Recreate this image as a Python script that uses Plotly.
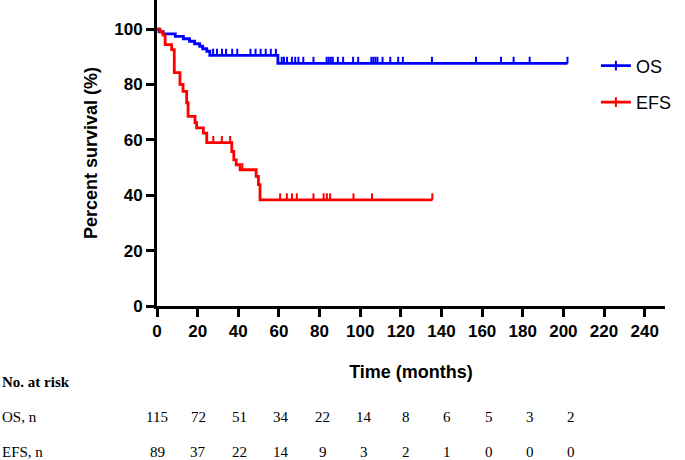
import numpy as np
import plotly.graph_objects as go

# ---------------- data ----------------
os_times = [0, 1, 3, 9, 13, 16, 18.5, 21, 22.5, 24.5, 26, 59.5, 202]
os_surv = [100, 99.1, 98.3, 97.4, 96.5, 95.6, 94.7, 93.8, 92.9, 92.0, 90.5, 87.6, 87.6]
os_censor = [27.6, 29.5, 32, 34, 37, 39.5, 46, 48.5, 51, 53.5, 56, 58.5, 61.4, 62.5, 64,
             66.4, 68, 69.6, 72, 77, 83.5, 84.5, 85.5, 86.5, 89, 91.6, 96.5, 99, 105.5,
             106.5, 107.5, 108.5, 111, 114.8, 118.7, 121, 135.3, 157, 169.3, 175.5, 183.4, 202]

efs_times = [0, 1.5, 3, 4, 7.2, 8.5, 11.3, 12.8, 14.6, 15.3, 18.7, 19.5, 22.8, 24.5,
             36.8, 37.8, 39, 40.9, 48.8, 49.9, 50.7, 135.5]
efs_surv = [100, 98.9, 97.8, 94.4, 92.6, 84.3, 80, 77.5, 73.4, 68.5, 66.2, 64.3, 62.4, 59.0,
            55.8, 52.8, 51, 49.2, 46.8, 43.8, 38.3, 38.3]
efs_censor = [27.7, 31.9, 36, 42, 60.6, 63.9, 66.4, 68.8, 77, 82, 83.6, 85.2, 96.7, 105.8, 135.5]

risk_times = [0, 20, 40, 60, 80, 100, 120, 140, 160, 180, 200]
os_risk = [115, 72, 51, 34, 22, 14, 8, 6, 5, 3, 2]
efs_risk = [89, 37, 22, 14, 9, 3, 2, 1, 0, 0, 0]

BLUE = "#0000FF"
RED = "#FF0000"


def surv_at(times, surv, t):
    idx = np.searchsorted(np.array(times), np.array(t), side="right") - 1
    return list(np.array(surv)[idx])


fig = go.Figure()


def add_curve(times, surv, censor, color, name):
    fig.add_trace(go.Scatter(x=times, y=surv, mode="lines", line=dict(color=color, width=2.8, shape="hv"),
                             showlegend=False, hoverinfo="skip"))
    cy = surv_at(times, surv, censor)
    fig.add_trace(go.Scatter(x=censor, y=cy, mode="markers", marker=dict(size=1, color=color),
                             error_y=dict(type="data", symmetric=False, array=[2.4] * len(censor),
                                          arrayminus=[0] * len(censor), width=0, thickness=2, color=color),
                             showlegend=False, hoverinfo="skip"))
    fig.add_trace(go.Scatter(x=[None], y=[None], mode="lines+markers", name=name, legendgroup=name,
                             line=dict(color=color, width=2.8),
                             marker=dict(symbol="line-ns-open", size=7, line=dict(color=color, width=2))))


add_curve(os_times, os_surv, os_censor, BLUE, "OS")
add_curve(efs_times, efs_surv, efs_censor, RED, "EFS")

axis_font = dict(family="Liberation Sans, Arial", size=17, color="black", weight="bold")

fig.update_xaxes(range=[0, 250], tickvals=list(range(0, 241, 20)), showline=True, linewidth=3,
                 linecolor="black", ticks="outside", ticklen=8, tickwidth=3, tickcolor="black",
                 showgrid=False, zeroline=False, tickfont=axis_font, automargin=False,
                 title=dict(text="Time (months)", font=dict(family="Liberation Sans, Arial", size=18,
                                                             color="black", weight="bold"), standoff=25))
fig.update_yaxes(range=[0, 110.5], tickvals=list(range(0, 101, 20)), showline=True, linewidth=3,
                 linecolor="black", ticks="outside", ticklen=8, tickwidth=3, tickcolor="black",
                 showgrid=False, zeroline=False, tickfont=axis_font, automargin=False,
                 title=dict(text="Percent survival (%)", font=dict(family="Liberation Sans, Arial", size=18,
                                                                    color="black", weight="bold"), standoff=12))

serif = "Liberation Serif, Times New Roman"
ann = []
ann.append(dict(text="<b>No. at risk</b>", x=-0.309, y=-0.248, xref="paper", yref="paper",
                xanchor="left", yanchor="middle", showarrow=False, font=dict(family=serif, size=15, color="black")))
ann.append(dict(text="OS, n", x=-0.309, y=-0.363, xref="paper", yref="paper",
                xanchor="left", yanchor="middle", showarrow=False, font=dict(family=serif, size=15, color="black")))
ann.append(dict(text="EFS, n", x=-0.309, y=-0.477, xref="paper", yref="paper",
                xanchor="left", yanchor="middle", showarrow=False, font=dict(family=serif, size=15, color="black")))
for i, (t, v) in enumerate(zip(risk_times, os_risk)):
    ann.append(dict(text=str(v), x=t, y=-0.363, xref="x", yref="paper", xanchor="center", yanchor="middle",
                    xshift=0.8 * i, showarrow=False, font=dict(family=serif, size=15, color="black")))
for i, (t, v) in enumerate(zip(risk_times, efs_risk)):
    ann.append(dict(text=str(v), x=t, y=-0.477, xref="x", yref="paper", xanchor="center", yanchor="middle",
                    xshift=0.8 * i, showarrow=False, font=dict(family=serif, size=15, color="black")))

fig.update_layout(
    width=685, height=460,
    margin=dict(l=157, r=20, t=0, b=154),
    plot_bgcolor="white", paper_bgcolor="white",
    annotations=ann,
    legend=dict(x=0.864, y=0.845, xanchor="left", yanchor="top", bgcolor="rgba(0,0,0,0)",
                font=dict(family="Liberation Sans, Arial", size=18, color="black"),
                tracegroupgap=10, itemwidth=30),
)

fig.write_html("out.html", post_script="document.body.style.margin='0';",
               config={"displayModeBar": False})
